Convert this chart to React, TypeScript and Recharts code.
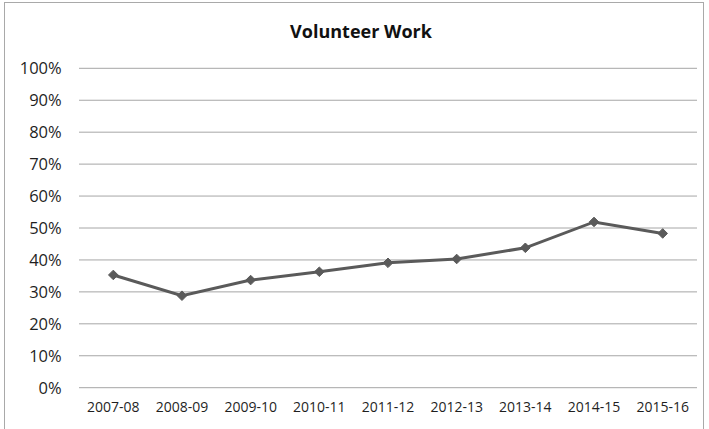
import { LineChart, Line, XAxis, YAxis, CartesianGrid } from "recharts";

const years = ["2007-08", "2008-09", "2009-10", "2010-11", "2011-12", "2012-13", "2013-14", "2014-15", "2015-16"];
const volunteerPct = [35.3, 28.8, 33.7, 36.3, 39.1, 40.3, 43.8, 51.9, 48.3];
const yTicks = [0, 10, 20, 30, 40, 50, 60, 70, 80, 90, 100];

const data = years.map((year, i) => ({ year, value: volunteerPct[i] }));

const font = "'Open Sans', 'Liberation Sans', sans-serif";
const lineColor = "#5a5a5a";

// diamond marker centred on the point recharts hands us
function Diamond(props: any) {
  const { cx, cy } = props;
  if (cx == null || cy == null) return null;
  const r = 4.8;
  return (
    <polygon
      points={`${cx},${cy - r} ${cx + r},${cy} ${cx},${cy + r} ${cx - r},${cy}`}
      fill={lineColor}
      stroke={lineColor}
      strokeWidth={1}
    />
  );
}

export default function App() {
  return (
    <div style={{ position: "absolute", top: 0, left: 0, width: 709, height: 429, background: "#fff", overflow: "hidden" }}>
      <div
        style={{
          position: "absolute",
          left: 4,
          top: 2,
          width: 700,
          height: 440,
          border: "1px solid #a9a9a9",
          boxSizing: "border-box",
        }}
      />
      <div
        style={{
          position: "absolute",
          left: 0,
          width: 722,
          top: 19,
          textAlign: "center",
          fontFamily: font,
          fontWeight: 700,
          fontSize: 18,
          color: "#111",
        }}
      >
        Volunteer Work
      </div>
      <LineChart
        width={709}
        height={429}
        data={data}
        margin={{ top: 68.3, right: 12, bottom: 11.3, left: 19 }}
        style={{ position: "absolute", top: 0, left: 0 }}
      >
        <CartesianGrid vertical={false} stroke="#a6a6a6" strokeWidth={1} />
        <XAxis
          dataKey="year"
          axisLine={false}
          tickLine={false}
          tickSize={0}
          tickMargin={14.6}
          height={30}
          interval={0}
          padding={{ left: 34.3, right: 34.3 }}
          tick={{ fontSize: 14, fill: "#1f1f1f", fontFamily: font }}
        />
        <YAxis
          domain={[0, 100]}
          ticks={yTicks}
          width={60}
          axisLine={false}
          tickLine={false}
          tickSize={0}
          tickMargin={17.3}
          interval={0}
          tickFormatter={(v) => `${v}%`}
          tick={{ fontSize: 16.5, fill: "#1f1f1f", fontFamily: font }}
        />
        <Line
          type="linear"
          dataKey="value"
          stroke={lineColor}
          strokeWidth={3}
          dot={<Diamond />}
          activeDot={false}
          isAnimationActive={false}
        />
      </LineChart>
    </div>
  );
}
